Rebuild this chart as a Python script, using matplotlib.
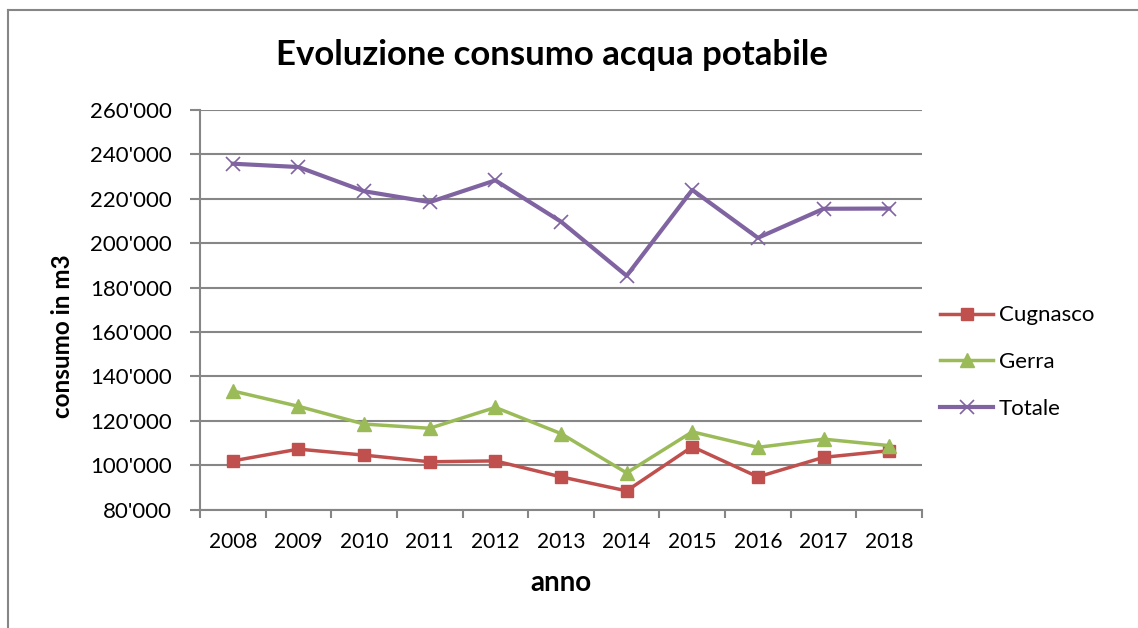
import matplotlib.pyplot as plt
from matplotlib.ticker import FuncFormatter, FixedLocator
from matplotlib.lines import Line2D

years = ["2008", "2009", "2010", "2011", "2012", "2013", "2014", "2015", "2016", "2017", "2018"]
cugnasco = [101900, 107200, 104500, 101500, 101900, 94700, 88400, 108300, 94700, 103500, 106500]
gerra = [133400, 126500, 118500, 116600, 126000, 114200, 96500, 115000, 108000, 111700, 108800]
totale = [235800, 234300, 223400, 218500, 228300, 209700, 185300, 224000, 202400, 215500, 215600]

plt.rcParams['font.family'] = ['Lato', 'DejaVu Sans']

fig = plt.figure(figsize=(11.38, 6.28), dpi=100)
ax = fig.add_axes([200 / 1138, 1 - 509.5 / 628, 722 / 1138, 399.5 / 628])

x = list(range(len(years)))
ax.plot(x, cugnasco, color='#C0504D', lw=2.5, marker='s', ms=9, label='Cugnasco')
ax.plot(x, gerra, color='#9BBB59', lw=2.5, marker='^', ms=10, label='Gerra')
ax.plot(x, totale, color='#8064A2', lw=3, marker='x', ms=10, mew=1.2, label='Totale')

ax.set_xlim(-0.5, len(years) - 0.5)
ax.set_ylim(80000, 260000)
ax.set_yticks(range(80000, 260001, 20000))
ax.yaxis.set_major_formatter(FuncFormatter(lambda v, p: "{:,}".format(int(v)).replace(",", "'")))
ax.set_xticks(x)
ax.set_xticklabels(years)
ax.xaxis.set_minor_locator(FixedLocator([i - 0.5 for i in range(len(years) + 1)]))
ax.tick_params(axis='x', which='major', length=0, pad=16, labelsize=15)
ax.tick_params(axis='x', which='minor', length=6, color='#868686', width=1.5)
ax.tick_params(axis='y', length=7, color='#868686', width=1.5, labelsize=16, pad=13)

ax.grid(axis='y', color='#868686', lw=1.5)
ax.set_axisbelow(True)
for side in ['top', 'right']:
    ax.spines[side].set_visible(False)
for side in ['left', 'bottom']:
    ax.spines[side].set_color('#868686')
    ax.spines[side].set_linewidth(1.5)

ax.set_xlabel("anno", fontsize=20, fontweight='bold', va='center')
ax.xaxis.set_label_coords(0.5, -0.184)
ax.set_ylabel("consumo in m3", fontsize=17.5, fontweight='bold', va='center')
ax.yaxis.set_label_coords(-0.19, 0.434)
fig.text(552 / 1138, 1 - 55 / 628, "Evoluzione consumo acqua potabile", fontsize=25,
         fontweight='bold', ha='center', va='center')

ax.legend(loc='center left', bbox_to_anchor=(1.025, 0.369), frameon=False, fontsize=16,
          handlelength=2.4, labelspacing=1.2, handletextpad=0.25, borderpad=0, borderaxespad=0)

# chart border (extends past the image on the right and bottom)
fig.add_artist(Line2D([8 / 1138, 8 / 1138], [0, 1 - 10 / 628], transform=fig.transFigure,
                      color='#868686', lw=1.5))
fig.add_artist(Line2D([8 / 1138, 1], [1 - 10 / 628, 1 - 10 / 628], transform=fig.transFigure,
                      color='#868686', lw=1.5))

plt.savefig("out.png", dpi=100)
